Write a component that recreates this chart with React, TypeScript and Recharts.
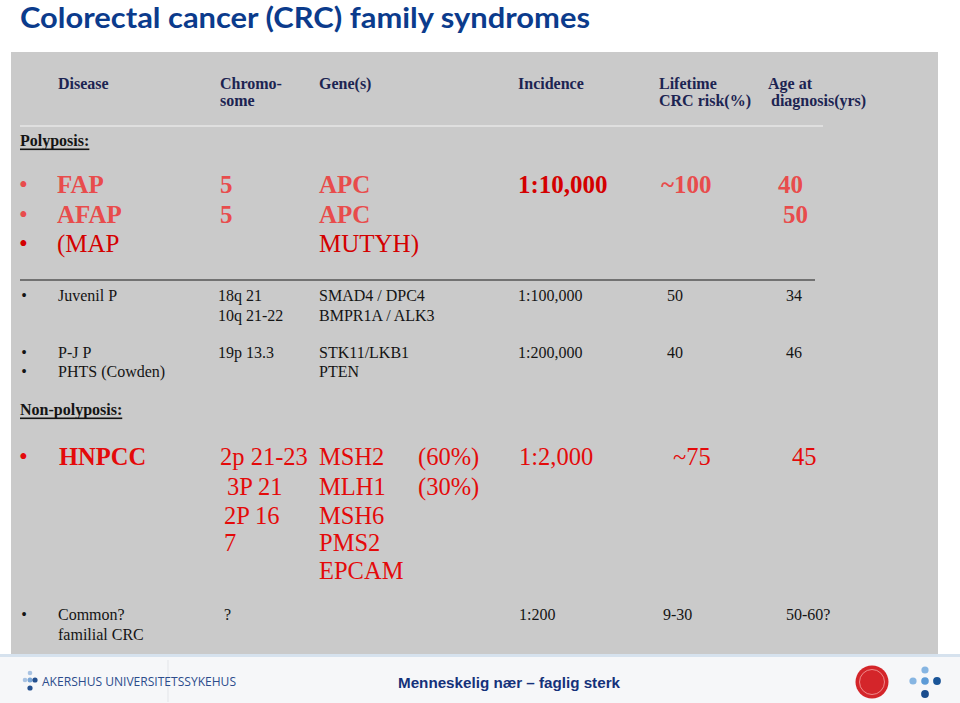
import {
  ReferenceArea,
  ReferenceDot,
  ReferenceLine,
  Scatter,
  ScatterChart,
  XAxis,
  YAxis,
} from "recharts";

// ---- slide text ----
const title = "Colorectal cancer (CRC) family syndromes";
const headerLine1 = ["Disease", "Chromo-", "Gene(s)", "Incidence", "Lifetime", "Age at"];
const headerLine2 = ["", "some", "", "", "CRC risk(%)", "diagnosis(yrs)"];
const groupLabels = ["Polyposis:", "Non-polyposis:"];

// adenomatous polyposis
const polyDisease = ["FAP", "AFAP", "(MAP"];
const polyChrom = ["5", "5", ""];
const polyGene = ["APC", "APC", "MUTYH)"];
const polyIncidence = ["1:10,000", "", ""];
const polyRisk = ["~100", "", ""];
const polyAge = ["40", "50", ""];

// hamartomatous polyposis
const hamDisease = ["Juvenil P", "", "P-J P", "PHTS (Cowden)"];
const hamChrom = ["18q 21", "10q 21-22", "19p 13.3", ""];
const hamGene = ["SMAD4 / DPC4", "BMPR1A / ALK3", "STK11/LKB1", "PTEN"];
const hamIncidence = ["1:100,000", "", "1:200,000", ""];
const hamRisk = ["50", "", "40", ""];
const hamAge = ["34", "", "46", ""];

// non-polyposis
const lynchDisease = ["HNPCC", "", "", "", ""];
const lynchChrom = ["2p 21-23", "3P 21", "2P 16", "7", ""];
const lynchGene = ["MSH2", "MLH1", "MSH6", "PMS2", "EPCAM"];
const lynchShare = ["(60%)", "(30%)", "", "", ""];
const lynchIncidence = ["1:2,000", "", "", "", ""];
const lynchRisk = ["~75", "", "", "", ""];
const lynchAge = ["45", "", "", "", ""];

const commonDisease = ["Common?", "familial CRC"];
const commonChrom = ["?", ""];
const commonIncidence = ["1:200", ""];
const commonRisk = ["9-30", ""];
const commonAge = ["50-60?", ""];

const footerLeft = "AKERSHUS UNIVERSITETSSYKEHUS";
const footerSlogan = "Menneskelig nær – faglig sterk";

// ---- layout ----
const W = 960;
const H = 703;
const SERIF = "'Liberation Serif', 'Times New Roman', serif";
const SANS = "'Liberation Sans', Arial, sans-serif";
const NAVY = "#1c2452";
const RED_LIGHT = "#e84c4c";
const RED_DARK = "#d40000";
const RED = "#e40a0a";
const INK = "#141414";

type Mark = {
  x: number;
  y: number;
  text: string;
  size: number;
  bold?: boolean;
  fill: string;
  underline?: boolean;
  family?: string;
  fit?: number;
  anchor?: "start" | "middle";
};

const pick = (v: number | number[], i: number) => (Array.isArray(v) ? v[i] : v);

function addColumn(
  out: Mark[],
  values: string[],
  xs: number | number[],
  ys: number[],
  style: (i: number) => Omit<Mark, "x" | "y" | "text">
) {
  values.forEach((text, i) => {
    if (!text) return;
    out.push({ x: pick(xs, i), y: ys[i], text, ...style(i) });
  });
}

const marks: Mark[] = [];

// header
const headerX = [58, 220, 319, 518, 659, 768];
const headerX2 = [58, 220, 319, 518, 659, 771];
const hdr = () => ({ size: 16, bold: true, fill: NAVY });
headerLine1.forEach((t, i) => marks.push({ x: headerX[i], y: 83, text: t, ...hdr() }));
headerLine2.forEach((t, i) => t && marks.push({ x: headerX2[i], y: 100, text: t, ...hdr() }));

groupLabels.forEach((t, i) =>
  marks.push({ x: 20, y: [140, 409][i], text: t, size: 16, bold: true, fill: INK, underline: true })
);

// polyposis big rows
const polyYs = [184, 214, 243];
const polyStyle = (i: number) => ({ size: 25, bold: i < 2, fill: i < 2 ? RED_LIGHT : RED_DARK });
addColumn(marks, polyDisease, 57, polyYs, polyStyle);
addColumn(marks, polyChrom, 220, polyYs, polyStyle);
addColumn(marks, polyGene, 319, polyYs, polyStyle);
addColumn(marks, polyIncidence, 518, polyYs, () => ({ size: 25, bold: true, fill: RED_DARK }));
addColumn(marks, polyRisk, 661, polyYs, polyStyle);
addColumn(marks, polyAge, [778, 783], polyYs, polyStyle);

// hamartomatous rows
const hamYs = [295, 315, 352, 371];
const small = () => ({ size: 16, fill: INK });
addColumn(marks, hamDisease, 58, hamYs, small);
addColumn(marks, hamChrom, 218, hamYs, small);
addColumn(marks, hamGene, 319, hamYs, small);
addColumn(marks, hamIncidence, 518, hamYs, small);
addColumn(marks, hamRisk, 667, hamYs, small);
addColumn(marks, hamAge, 786, hamYs, small);

// HNPCC rows
const lynchYs = [456, 486, 515, 542, 570];
const lynchStyle = () => ({ size: 24.5, fill: RED });
addColumn(marks, lynchDisease, 59, lynchYs, () => ({ size: 24.5, bold: true, fill: RED }));
addColumn(marks, lynchChrom, [220, 227, 224, 224], lynchYs, lynchStyle);
addColumn(marks, lynchGene, 319, lynchYs, lynchStyle);
addColumn(marks, lynchShare, 418, lynchYs, lynchStyle);
addColumn(marks, lynchIncidence, 519, lynchYs, lynchStyle);
addColumn(marks, lynchRisk, 673, lynchYs, lynchStyle);
addColumn(marks, lynchAge, 792, lynchYs, lynchStyle);

// common familial
const commonYs = [614, 634];
addColumn(marks, commonDisease, 58, commonYs, small);
addColumn(marks, commonChrom, 224, commonYs, small);
addColumn(marks, commonIncidence, 519, commonYs, small);
addColumn(marks, commonRisk, 663, commonYs, small);
addColumn(marks, commonAge, 786, commonYs, small);

// bullets
const bigBullets = [...polyYs.map((y, i) => ({ y, fill: i < 2 ? RED_LIGHT : RED_DARK })), { y: 456, fill: RED }];
bigBullets.forEach((b) => marks.push({ x: 23.5, y: b.y, text: "•", size: 25, fill: b.fill, anchor: "middle" }));
[295, 352, 371, 614].forEach((y) =>
  marks.push({ x: 24, y, text: "•", size: 16, fill: INK, anchor: "middle" })
);

// title + footer text
const chrome: Mark[] = [
  { x: 20, y: 16, text: title, size: 29, bold: true, fill: "#0b3b8c", family: "Lato, 'Open Sans', sans-serif", fit: 570 },
  { x: 42, y: 681, text: footerLeft, size: 12, fill: "#2c4c8c", family: "'Open Sans', sans-serif", fit: 194 },
  { x: 398, y: 682, text: footerSlogan, size: 15, bold: true, fill: "#14317a", family: SANS, fit: 222 },
];

function TextMark(props: any) {
  const m: Mark = props.payload;
  return (
    <text
      x={props.cx}
      y={props.cy}
      fontFamily={m.family ?? SERIF}
      fontSize={m.size}
      fontWeight={m.bold ? 700 : 400}
      fill={m.fill}
      textAnchor={m.anchor ?? "start"}
      textDecoration={m.underline ? "underline" : undefined}
      dominantBaseline="central"
      textLength={m.fit}
      lengthAdjust={m.fit ? "spacingAndGlyphs" : undefined}
    >
      {m.text}
    </text>
  );
}

const leftDots = [
  { x: 30, y: 673, r: 2.3, c: "#a9c3e2" },
  { x: 25, y: 680, r: 2.3, c: "#a9c3e2" },
  { x: 30, y: 680, r: 2.5, c: "#7aa6d6" },
  { x: 35, y: 680, r: 2.6, c: "#24508f" },
  { x: 30, y: 688, r: 2.6, c: "#24508f" },
];
const rightDots = [
  { x: 925, y: 670, r: 3.6, c: "#86b5e2" },
  { x: 913, y: 681, r: 3.6, c: "#86b5e2" },
  { x: 925, y: 681, r: 3.8, c: "#5c9ad6" },
  { x: 937, y: 681, r: 3.9, c: "#1a5598" },
  { x: 925, y: 694, r: 3.9, c: "#1a4d8e" },
];

export default function App() {
  return (
    <div style={{ position: "absolute", left: 0, top: 0, width: W, height: H, background: "#fff" }}>
      <ScatterChart width={W} height={H} margin={{ top: 0, right: 0, bottom: 0, left: 0 }}>
        <XAxis type="number" dataKey="x" domain={[0, W]} hide allowDataOverflow />
        <YAxis type="number" dataKey="y" domain={[0, H]} reversed hide allowDataOverflow />
        {/* slide panel + footer band */}
        <ReferenceArea x1={11} x2={938} y1={52} y2={654} fill="#cacaca" fillOpacity={1} stroke="none" />
        <ReferenceArea x1={0} x2={W} y1={654} y2={657} fill="#d6e2ee" fillOpacity={1} stroke="none" />
        <ReferenceArea x1={0} x2={W} y1={657} y2={H} fill="#f6f7f9" fillOpacity={1} stroke="none" />
        <ReferenceLine segment={[{ x: 168, y: 660 }, { x: 168, y: 702 }]} stroke="#e3e5e9" />
        <ReferenceLine segment={[{ x: 20, y: 126 }, { x: 823, y: 126 }]} stroke="#f4f4f4" strokeWidth={1.2} />
        <ReferenceLine segment={[{ x: 20, y: 280 }, { x: 815, y: 280 }]} stroke="#1a1a1a" strokeWidth={1.2} />
        {leftDots.concat(rightDots).map((d, i) => (
          <ReferenceDot key={i} x={d.x} y={d.y} r={d.r} fill={d.c} stroke="none" />
        ))}
        <ReferenceDot x={872} y={682} r={16.5} fill="#d4252a" stroke="none" />
        <ReferenceDot x={872} y={682} r={12.5} fill="none" stroke="#ef8a8a" strokeWidth={1} />
        <Scatter data={marks} shape={TextMark} isAnimationActive={false} />
        <Scatter data={chrome} shape={TextMark} isAnimationActive={false} />
      </ScatterChart>
    </div>
  );
}
